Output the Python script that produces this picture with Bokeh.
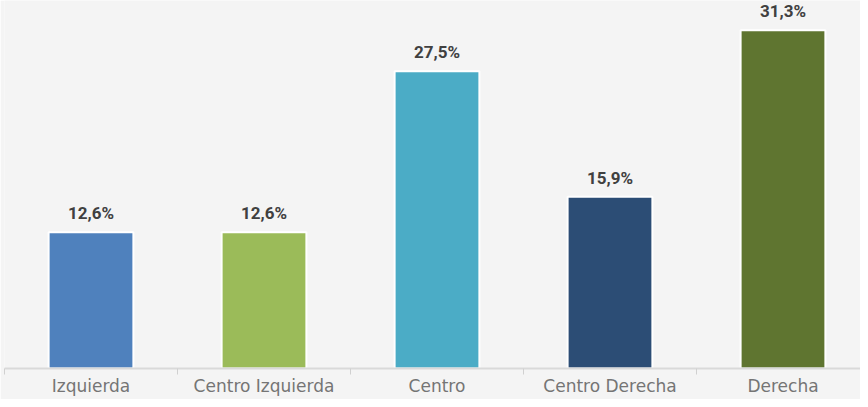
from bokeh.plotting import figure
from bokeh.models import ColumnDataSource, Range1d, FixedTicker, LinearAxis
from bokeh.core.properties import value
from bokeh.embed import file_html
from bokeh.resources import INLINE

categories = ["Izquierda", "Centro Izquierda", "Centro", "Centro Derecha", "Derecha"]
values = [12.6, 12.6, 27.5, 15.9, 31.3]
labels = ["12,6%", "12,6%", "27,5%", "15,9%", "31,3%"]
colors = ["#4f81bd", "#9bbb59", "#4bacc6", "#2c4d75", "#5f7530"]

xs = [i + 0.5 for i in range(len(categories))]
src = ColumnDataSource(dict(x=xs, top=values, label=labels, color=colors))

BG = "#f4f4f4"
p = figure(width=860, height=399, output_backend="svg", toolbar_location=None,
           x_range=Range1d(0, 4.948), y_range=Range1d(0, 34.05),
           x_axis_type=None, y_axis_type=None,
           min_border_left=4, min_border_right=0, min_border_top=0, min_border_bottom=31,
           background_fill_color=BG, border_fill_color=BG, outline_line_color=None)
p.grid.visible = False

p.vbar(x="x", top="top", bottom=0, width=0.49, fill_color="color",
       line_color="white", line_width=2, source=src)
p.text(x="x", y="top", text="label", source=src, y_offset=-9,
       text_align="center", text_baseline="bottom",
       text_font=value("Roboto"), text_font_style="bold",
       text_font_size="17px", text_color="#404040")

ax = LinearAxis(ticker=FixedTicker(ticks=xs, minor_ticks=[0, 1, 2, 3, 4, 5]))
ax.major_label_overrides = {x: c for x, c in zip(xs, categories)}
ax.major_tick_line_color = None
ax.major_tick_out = 0
ax.major_tick_in = 0
ax.minor_tick_line_color = "#d0d0d0"
ax.minor_tick_out = 6
ax.minor_tick_in = 0
ax.axis_line_color = "#d9d9d9"
ax.axis_line_width = 2
ax.major_label_text_font = "DejaVu Sans"
ax.major_label_text_font_size = "17px"
ax.major_label_text_color = "#757575"
ax.major_label_standoff = 1
p.add_layout(ax, "below")

open("out.html", "w").write(file_html(p, INLINE))
